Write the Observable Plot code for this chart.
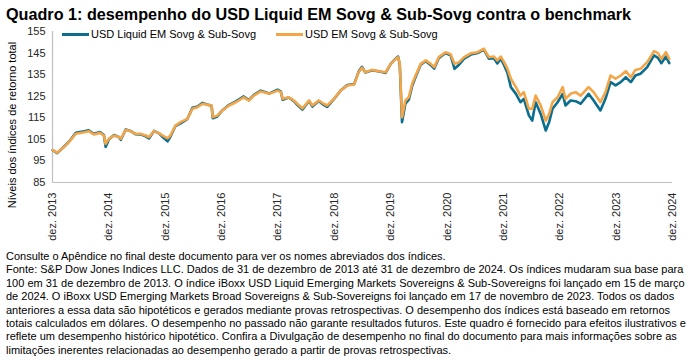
<!DOCTYPE html>
<html><head><meta charset="utf-8">
<script src="https://cdn.jsdelivr.net/npm/d3@7"></script>
<script src="https://cdn.jsdelivr.net/npm/@observablehq/plot@0.6"></script>
<style>
body{margin:0;background:#fff;font-family:"Liberation Sans",Arial,sans-serif;}
#wrap{position:relative;width:695px;height:357px;overflow:hidden;background:#fff;}
#title{position:absolute;left:6px;top:5px;font-weight:bold;font-size:16.2px;color:#000;white-space:nowrap;}
#chart{position:absolute;left:0;top:0;}
.leg{position:absolute;top:28px;font-size:11px;color:#000;white-space:nowrap;display:flex;align-items:center;}
.sw{display:inline-block;width:27px;height:3px;margin-right:2px;}
#ylabel{position:absolute;left:12px;top:125px;font-size:11px;color:#000;white-space:nowrap;transform:translate(-50%,-50%) rotate(-90deg);}
#note{position:absolute;left:6px;top:250px;font-size:11px;line-height:13.4px;color:#000;white-space:nowrap;}
</style>
</head><body>
<div id="wrap">
<div id="chart"></div>
<div id="title"></div>
<div id="ylabel"></div>
<div id="note"></div>
</div>
<script>
// ---- data ----
const titleText = "Quadro 1: desempenho do USD Liquid EM Sovg & Sub-Sovg contra o benchmark";
const yLabelText = "Níveis dos índices de retorno total";
const seriesNames = ["USD Liquid EM Sovg & Sub-Sovg", "USD EM Sovg & Sub-Sovg"];
const seriesColors = ["#0b6e8e", "#f3a548"];
const xTickYears = [2013, 2014, 2015, 2016, 2017, 2018, 2019, 2020, 2021, 2022, 2023, 2024];
const xTickPrefix = "dez. ";
const yTicks = [85, 95, 105, 115, 125, 135, 145, 155];

// decimal-year positions of the read points
const years = [2014.00, 2014.08, 2014.20, 2014.29, 2014.41, 2014.56, 2014.64, 2014.73, 2014.84, 2014.91,
 2014.94, 2015.00, 2015.09, 2015.18, 2015.21, 2015.30, 2015.38, 2015.47, 2015.56, 2015.65,
 2015.71, 2015.80, 2015.89, 2015.95, 2016.04, 2016.09, 2016.18, 2016.27, 2016.39, 2016.48,
 2016.57, 2016.66, 2016.74, 2016.82, 2016.84, 2016.92, 2017.01, 2017.13, 2017.25, 2017.39,
 2017.48, 2017.57, 2017.69, 2017.78, 2017.84, 2017.99, 2018.05, 2018.08, 2018.19, 2018.28,
 2018.34, 2018.43, 2018.55, 2018.61, 2018.72, 2018.81, 2018.87, 2018.93, 2018.99, 2019.11,
 2019.23, 2019.35, 2019.43, 2019.49, 2019.55, 2019.67, 2019.82, 2019.91, 2020.00, 2020.09,
 2020.13, 2020.16, 2020.19, 2020.20, 2020.26, 2020.32, 2020.38, 2020.44, 2020.53, 2020.62,
 2020.71, 2020.77, 2020.85, 2020.97, 2021.06, 2021.13, 2021.21, 2021.30, 2021.42, 2021.54,
 2021.65, 2021.74, 2021.83, 2021.89, 2021.95, 2022.01, 2022.07, 2022.13, 2022.22, 2022.30,
 2022.36, 2022.45, 2022.51, 2022.57, 2022.66, 2022.75, 2022.81, 2022.87, 2022.96, 2023.05,
 2023.10, 2023.19, 2023.28, 2023.37, 2023.51, 2023.60, 2023.72, 2023.81, 2023.90, 2023.99,
 2024.08, 2024.17, 2024.26, 2024.34, 2024.43, 2024.55, 2024.67, 2024.74, 2024.80, 2024.88,
 2024.94];

const usdEM = [100.0, 98.8, 101.4, 103.7, 107.6, 108.3, 108.8, 107.3, 108.0, 106.8,
 102.9, 105.3, 106.8, 106.0, 105.3, 109.4, 108.8, 107.6, 107.6, 106.8,
 106.0, 108.8, 107.9, 106.8, 105.5, 106.8, 111.4, 113.0, 114.5, 119.2,
 119.9, 121.5, 121.0, 120.7, 115.3, 116.0, 118.4, 120.7, 122.2, 124.5,
 123.0, 125.3, 127.2, 126.6, 126.1, 127.6, 126.9, 123.8, 124.5, 123.0,
 121.5, 119.4, 123.0, 120.7, 123.0, 121.5, 120.7, 122.2, 123.8, 127.6,
 130.0, 130.4, 136.1, 138.2, 136.1, 137.2, 136.5, 136.1, 140.0, 142.3,
 143.1, 140.0, 121.5, 115.3, 123.0, 124.5, 130.8, 134.6, 140.0, 141.6,
 140.0, 138.5, 143.1, 145.4, 144.5, 140.0, 140.8, 143.1, 144.9, 145.4,
 147.0, 143.1, 143.4, 141.6, 143.4, 140.8, 137.7, 133.1, 129.2, 125.3,
 126.9, 119.2, 119.2, 125.3, 120.7, 113.7, 116.8, 122.2, 124.5, 129.2,
 123.8, 126.1, 126.9, 125.3, 129.2, 126.9, 122.2, 126.9, 134.6, 133.1,
 134.6, 136.6, 133.8, 137.2, 137.7, 140.8, 145.9, 145.0, 142.3, 145.4,
 142.3];

const liquidEM = [100.0, 98.6, 101.6, 103.9, 108.0, 108.7, 109.2, 107.6, 108.4, 107.0,
 101.5, 105.0, 107.0, 106.0, 104.8, 109.6, 108.9, 107.4, 107.3, 106.4,
 105.4, 108.9, 107.8, 106.2, 104.1, 106.2, 111.2, 112.4, 114.4, 119.6,
 120.2, 121.9, 121.2, 120.6, 114.8, 115.6, 118.4, 121.0, 122.6, 124.9,
 123.2, 125.6, 127.6, 126.8, 126.2, 128.0, 127.1, 123.4, 124.4, 122.7,
 121.0, 118.8, 122.8, 120.2, 122.8, 121.0, 120.0, 121.8, 123.6, 127.6,
 130.2, 130.6, 136.4, 138.6, 136.0, 137.0, 136.3, 135.8, 140.0, 142.5,
 143.4, 139.6, 119.5, 113.0, 121.6, 123.4, 129.8, 133.9, 139.6, 141.2,
 139.4, 137.8, 142.6, 145.0, 144.0, 137.7, 139.6, 142.4, 144.3, 145.0,
 146.6, 142.4, 142.6, 140.2, 142.4, 139.4, 135.8, 129.2, 126.1, 122.2,
 123.8, 116.1, 113.7, 122.2, 116.8, 109.1, 113.0, 119.2, 122.2, 126.1,
 120.7, 123.0, 122.7, 121.5, 126.1, 123.0, 118.4, 123.8, 131.5, 130.0,
 131.5, 133.8, 131.5, 134.6, 135.4, 138.5, 143.9, 142.8, 140.3, 143.4,
 140.3];

const noteLines = [
 "Consulte o Apêndice no final deste documento para ver os nomes abreviados dos índices.",
 "Fonte: S&P Dow Jones Indices LLC. Dados de 31 de dezembro de 2013 até 31 de dezembro de 2024. Os índices mudaram sua base para",
 "100 em 31 de dezembro de 2013. O índice iBoxx USD Liquid Emerging Markets Sovereigns & Sub-Sovereigns foi lançado em 15 de março",
 "de 2024. O iBoxx USD Emerging Markets Broad Sovereigns & Sub-Sovereigns foi lançado em 17 de novembro de 2023. Todos os dados",
 "anteriores a essa data são hipotéticos e gerados mediante provas retrospectivas. O desempenho dos índices está baseado em retornos",
 "totais calculados em dólares. O desempenho no passado não garante resultados futuros. Este quadro é fornecido para efeitos ilustrativos e",
 "reflete um desempenho histórico hipotético. Confira a Divulgação de desempenho no final do documento para mais informações sobre as",
 "limitações inerentes relacionadas ao desempenho gerado a partir de provas retrospectivas."
];

// ---- build ----
const toDate = t => { const y = Math.floor(t); const a = Date.UTC(y,0,1), b = Date.UTC(y+1,0,1); return new Date(a + (t-y)*(b-a)); };
const data = years.map((t,i) => ({date: toDate(t), usd: usdEM[i], liq: liquidEM[i]}));
const xTicks = xTickYears.map(y => new Date(Date.UTC(y,11,31)));
const x0 = xTicks[0], x1 = xTicks[xTicks.length-1];

const chart = Plot.plot({
  width: 695, height: 250,
  marginTop: 31, marginBottom: 68, marginLeft: 52, marginRight: 23,
  style: {fontFamily: '"Liberation Sans", Arial, sans-serif', fontSize: "11px", color: "#262626", background: "transparent"},
  x: {type: "utc", domain: [x0, x1]},
  y: {domain: [85, 155]},
  marks: [
    Plot.axisY({ticks: yTicks, tickSize: 0, tickPadding: 7, label: null}),
    Plot.axisX({ticks: xTicks, tickSize: 0, tickPadding: 10, tickRotate: -90, tickFormat: d => xTickPrefix + d.getUTCFullYear(), label: null}),
    Plot.ruleX([x0], {stroke: "#bfbfbf", strokeWidth: 1.2}),
    Plot.ruleY([85], {stroke: "#bfbfbf", strokeWidth: 1.2}),
    Plot.line(data, {x: "date", y: "liq", stroke: seriesColors[0], strokeWidth: 2.6}),
    Plot.line(data, {x: "date", y: "usd", stroke: seriesColors[1], strokeWidth: 2.6})
  ]
});
document.getElementById("chart").appendChild(chart);
document.getElementById("title").textContent = titleText;
document.getElementById("ylabel").textContent = yLabelText;
document.getElementById("note").innerHTML = noteLines.map(s => s.replace(/&/g,"&amp;")).join("<br>");

const legPos = [62, 276];
seriesNames.forEach((n,i) => {
  const d = document.createElement("div");
  d.className = "leg";
  d.style.left = legPos[i] + "px";
  const s = document.createElement("span");
  s.className = "sw"; s.style.background = seriesColors[i];
  d.appendChild(s);
  d.appendChild(document.createTextNode(n));
  document.getElementById("wrap").appendChild(d);
});
</script>
</body></html>
